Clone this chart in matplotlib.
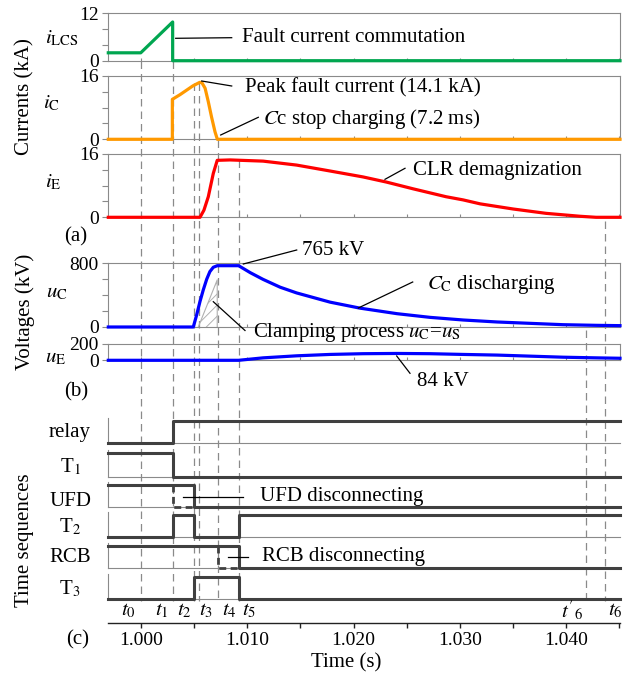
import numpy as np
import matplotlib
matplotlib.use('Agg')
import matplotlib.pyplot as plt

plt.rcParams['font.family'] = ['Liberation Serif', 'DejaVu Serif']
plt.rcParams['mathtext.fontset'] = 'stix'
plt.rcParams['hatch.linewidth'] = 0.7

W, H, DPI = 636, 681, 100
FS = 15.0      # annotation / label text
FT = 14.0      # tick labels

# ---------------- data (time in s) ----------------
t_start, t_end = 0.99695, 1.04505
event_t = [1.0000, 1.0030, 1.0050, 1.0055, 1.00725, 1.0092, 1.0419, 1.0436]
event_labels = [r'$t_0$', r'$t_1$', r'$t_2$', r'$t_3$', r'$t_4$', r'$t_5$', r"$t'_6$", r'$t_6$']

ilcs_t = [0.99695, 1.0000, 1.0030, 1.0030, 1.04505]
ilcs_v = [2.0, 2.0, 9.8, 0.0, 0.0]

ic_t = [0.99695, 1.00297, 1.00297, 1.0037, 1.0049, 1.00555, 1.00575, 1.00605,
        1.00635, 1.00665, 1.00698, 1.0072, 1.04505]
ic_v = [0, 0, 10.1, 11.3, 13.5, 14.4, 14.3, 12.9, 9.5, 5.7, 1.9, 0, 0]

ie_t = [0.99695, 1.00557, 1.00594, 1.00635, 1.00682, 1.00719, 1.0084, 1.0115,
        1.01465, 1.0178, 1.0209, 1.0231, 1.0256, 1.0287, 1.0303, 1.0319, 1.0350,
        1.0381, 1.0413, 1.0428, 1.04505]
ie_v = [0, 0, 1.8, 5.2, 11.1, 14.4, 14.5, 14.2, 13.2, 11.7, 10.2, 8.9, 7.2, 5.2,
        4.4, 3.4, 2.1, 1.0, 0.26, 0.0, 0.0]

uc_t = [0.99695, 1.00494, 1.00526, 1.00557, 1.00588, 1.0062, 1.0065, 1.00682,
        1.0072, 1.0092, 1.0103, 1.0115, 1.0131, 1.01465, 1.0178, 1.0206, 1.0241,
        1.0272, 1.0303, 1.0335, 1.0366, 1.0397, 1.0428, 1.04505]
uc_v = [0, 0, 154, 321, 467, 600, 696, 750, 770, 770, 682, 598, 500, 428, 312,
        237, 167, 121, 88, 63, 46, 29, 21, 17]

ue_t = [0.99695, 1.0092, 1.0115, 1.01465, 1.0178, 1.0209, 1.0241, 1.0272, 1.0303,
        1.0335, 1.0366, 1.0397, 1.0428, 1.04505]
ue_v = [0, 0, 30, 55, 72, 81, 84, 81, 72, 64, 51, 38, 30, 25]

clamp_t = [1.00541, 1.00719]
clamp_v = [0, 592]

seq_names = ['relay', r'T$_1$', 'UFD', r'T$_2$', 'RCB', r'T$_3$']
seq_t = [
    [t_start, 1.0030, t_end],
    [t_start, 1.0030, t_end],
    [t_start, 1.0050, t_end],
    [t_start, 1.0030, 1.0050, 1.0092, t_end],
    [t_start, 1.0092, t_end],
    [t_start, 1.0050, 1.0092, t_end],
]
seq_v = [
    [0, 1, 1],
    [1, 0, 0],
    [1, 0, 0],
    [0, 1, 0, 1, 1],
    [1, 0, 0],
    [0, 1, 0, 0],
]
dash_seq = {2: ([1.0030, 1.0030, 1.0050], [1, 0, 0]),
            4: ([1.00725, 1.00725, 1.0092], [1, 0, 0])}

xticks = [1.000 + 0.005 * k for k in range(10)]
xticklabels = ['1.000', '', '1.010', '', '1.020', '', '1.030', '', '1.040', '']

# ---------------- layout ----------------
L, R = 108.3, 620.0
GRAY = '#8a8a8a'
fig = plt.figure(figsize=(W / DPI, H / DPI), dpi=DPI)


def add_ax(top, bottom, left=L, right=R, **kw):
    return fig.add_axes([left / W, 1 - bottom / H, (right - left) / W, (bottom - top) / H], **kw)


# overlay for event dashed lines (drawn behind)
ov = add_ax(0, H)
ov.set_xlim(t_start, t_end)
ov.set_ylim(H, 0)
ov.axis('off')
dash_top = [61, 61, 83, 83, 140, 160, 330, 221]
for t, y0 in zip(event_t, dash_top):
    ov.plot([t, t], [y0, 601], color=GRAY, lw=0.9, ls=(0, (6, 4)), zorder=1)


def style_panel(ax, ymax, step):
    ax.set_facecolor('none')
    ax.set_xlim(t_start, t_end)
    ax.set_ylim(0, ymax)
    for s in ax.spines.values():
        s.set_color(GRAY)
        s.set_linewidth(0.8)
    yt = np.arange(0, ymax + step / 2, step)
    ax.set_yticks(yt)
    ax.set_yticklabels([('%d' % v if v in (0, ymax) else '') for v in yt], fontsize=FT)
    ax.tick_params(axis='y', direction='out', length=4, width=0.8, color=GRAY, pad=3)
    ax.set_xticks(xticks)
    ax.set_xticklabels([])
    ax.tick_params(axis='x', direction='in', length=2.5, width=0.8, color=GRAY)


panels = [
    (13.3, 60.7, 12, 4, ilcs_t, ilcs_v, '#00A650'),
    (76.0, 139.3, 16, 4, ic_t, ic_v, '#FF9900'),
    (154.0, 217.3, 16, 4, ie_t, ie_v, '#FF0000'),
    (263.3, 327.0, 800, 200, uc_t, uc_v, '#0000FF'),
    (344.0, 360.3, 200, 200, ue_t, ue_v, '#0000FF'),
]
pax = []
for top, bot, ymax, step, tt, vv, col in panels:
    ax = add_ax(top, bot)
    style_panel(ax, ymax, step)
    ax.plot(tt, vv, color=col, lw=2.3, clip_on=False, zorder=3, solid_joinstyle='round')
    pax.append(ax)

# clamping hatch
axu = pax[3]
axu.fill_between(clamp_t, [0, 0], clamp_v, facecolor='none', edgecolor='#b0b0b0',
                 hatch='///', linewidth=0, zorder=2)
axu.plot([clamp_t[0], clamp_t[1], clamp_t[1]], [clamp_v[0], clamp_v[1], 0],
         color='#b0b0b0', lw=0.8, zorder=2)

# time sequences
row_low = [443, 477, 507, 537, 568, 599]
row_high = [420.7, 453, 485, 515, 545.7, 577]
for i in range(6):
    top = row_low[i] - 1.12 * (row_low[i] - row_high[i])
    ax = add_ax(top, row_low[i])
    ax.set_facecolor('none')
    ax.set_xlim(t_start, t_end)
    ax.set_ylim(0, 1.12)
    for k in ('top', 'right'):
        ax.spines[k].set_visible(False)
    for k in ('left', 'bottom'):
        ax.spines[k].set_color(GRAY)
        ax.spines[k].set_linewidth(0.8)
    ax.set_xticks([])
    ax.set_yticks([])
    ax.plot(seq_t[i], seq_v[i], drawstyle='steps-post', color='#404040', lw=2.2,
            clip_on=False, zorder=3)
    if i in dash_seq:
        dt, dv = dash_seq[i]
        ax.plot(dt, dv, color='#404040', lw=2.0, ls=(0, (2.5, 1.6)), clip_on=False, zorder=3)

# bottom time axis
axt = add_ax(603, 623.3)
axt.set_facecolor('none')
axt.set_xlim(t_start, t_end)
axt.set_ylim(0, 1)
for k in ('top', 'right', 'left'):
    axt.spines[k].set_visible(False)
axt.spines['bottom'].set_color('#222222')
axt.spines['bottom'].set_linewidth(1.0)
axt.set_yticks([])
axt.set_xticks(xticks)
axt.set_xticklabels(xticklabels, fontsize=FT)
axt.tick_params(axis='x', direction='out', length=3.5, width=1.0, color='#222222', pad=3)
label_dx = [-12, -11, -10, 7, 11, 10, -14, 11]
for t, lab, dx in zip(event_t, event_labels, label_dx):
    axt.annotate(lab, xy=(t, 0.6), xycoords=('data', 'axes fraction'),
                 xytext=(dx * 0.72, 0), textcoords='offset points',
                 ha='center', va='center', fontsize=FS)

# annotation overlay in pixel coordinates
an = add_ax(0, H, left=0, right=W)
an.set_facecolor('none')
an.set_xlim(0, W)
an.set_ylim(H, 0)
an.axis('off')

leaders = [
    ((175.7, 38.3), (231.7, 37.7)),
    ((201.7, 81.0), (231.7, 86.0)),
    ((220.7, 135.0), (258.3, 117.3)),
    ((385.0, 179.3), (405.0, 168.3)),
    ((243.3, 264.0), (296.7, 250.0)),
    ((358.3, 308.0), (412.7, 282.0)),
    ((213.3, 301.7), (245.0, 330.5)),
    ((396.7, 356.0), (410.0, 373.3)),
    ((183.0, 496.7), (243.0, 496.7)),
    ((228.0, 556.7), (248.0, 556.7)),
]
for (x0, y0), (x1, y1) in leaders:
    an.plot([x0, x1], [y0, y1], color='black', lw=0.9, zorder=5)

ann_texts = [
    (241.7, 38, 'Fault current commutation'),
    (245, 88, 'Peak fault current (14.1 kA)'),
    (263, 119, r'$C$c stop charging (7.2 ms)'),
    (413.3, 170, 'CLR demagnization'),
    (301.7, 250.5, '765 kV'),
    (426.7, 285, r'$C_{\mathrm{C}}$ discharging'),
    (252.7, 332, r'Clamping process $u_{\mathrm{C}}$=$u_{\mathrm{S}}$'),
    (417.3, 381, '84 kV'),
    (260, 497, 'UFD disconnecting'),
    (262, 556, 'RCB disconnecting'),
]
for x, y, s in ann_texts:
    an.text(x, y, s, ha='left', va='center', fontsize=FS, zorder=6)

center_texts = [
    (62, 38, r'$i_{\mathrm{LCS}}$'),
    (52, 103, r'$i_{\mathrm{C}}$'),
    (53, 182, r'$i_{\mathrm{E}}$'),
    (57, 293, r'$u_{\mathrm{C}}$'),
    (56, 357.7, r'$u_{\mathrm{E}}$'),
    (76, 237, '(a)'),
    (76, 392, '(b)'),
    (78, 640, '(c)'),
    (346, 663, 'Time (s)'),
]
for x, y, s in center_texts:
    an.text(x, y, s, ha='center', va='center', fontsize=FS)

row_label_y = [432, 467, 502, 527, 557, 589]
for y, s in zip(row_label_y, seq_names):
    an.text(70, y, s, ha='center', va='center', fontsize=FS)

for x, y, s in [(25, 97, 'Currents (kA)'), (25, 312, 'Voltages (kV)'), (25, 540, 'Time sequences')]:
    an.text(x, y, s, ha='center', va='center', rotation=90, fontsize=FS)

fig.savefig('out.png', dpi=DPI)
